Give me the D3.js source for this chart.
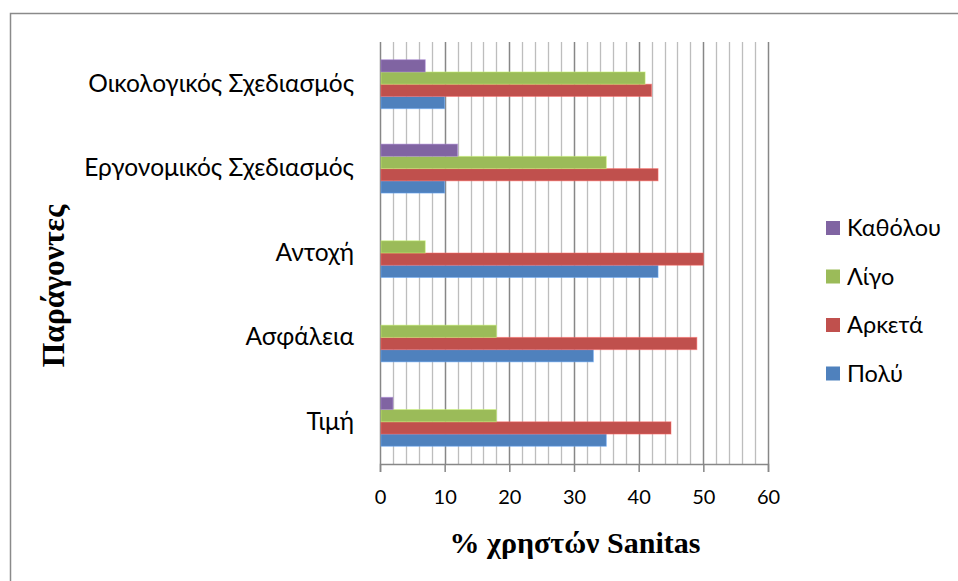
<!DOCTYPE html>
<html>
<head>
<meta charset="utf-8">
<script src="https://cdn.jsdelivr.net/npm/d3@7"></script>
<style>
  html, body { margin: 0; padding: 0; background: #fff; }
  svg { display: block; }
</style>
</head>
<body>
<svg id="chart" width="958" height="581"></svg>
<script>
// Factors, bottom to top
const categories = ["Τιμή", "Ασφάλεια", "Αντοχή", "Εργονομικός Σχεδιασμός", "Οικολογικός Σχεδιασμός"];
// Share of Sanitas users (%) per answer
const poly     = [35, 33, 43, 10, 10];
const arketa   = [45, 49, 50, 43, 42];
const ligo     = [18, 18, 7, 35, 41];
const katholou = [2, 0, 0, 12, 7];
const seriesNames = ["Πολύ", "Αρκετά", "Λίγο", "Καθόλου"];
const seriesColors = ["#4F81BD", "#C0504D", "#9BBB59", "#8064A2"];
const xTicks = [0, 10, 20, 30, 40, 50, 60];
const xTitle = "% χρηστών Sanitas";
const yTitle = "Παράγοντες";

const seriesValues = [poly, arketa, ligo, katholou];
const labelFont = "Lato, 'Noto Sans', sans-serif";
const titleFont = "'Liberation Serif', 'Times New Roman', serif";

const svg = d3.select("#chart");

// Outer chart frame
svg.append("rect")
  .attr("x", 10.5).attr("y", 13.5)
  .attr("width", 1000).attr("height", 700)
  .attr("fill", "none").attr("stroke", "#8a8a8a").attr("stroke-width", 1.5);

const x = d3.scaleLinear().domain([0, 60]).range([380, 768]);
const y = d3.scaleBand()
  .domain(categories.slice().reverse())
  .range([42, 464])
  .paddingInner(0.42)
  .paddingOuter(0.21);
// Series stacked top-to-bottom inside each band
const ySub = d3.scaleBand()
  .domain(seriesNames.slice().reverse())
  .range([0, y.bandwidth()]);

// Vertical gridlines: minor every 2, major every 10
const grid = svg.append("g");
grid.selectAll("line.minor")
  .data(d3.range(2, 60, 2).filter(v => v % 10 !== 0))
  .join("line")
  .attr("x1", d => Math.round(x(d)) + 0.5).attr("x2", d => Math.round(x(d)) + 0.5)
  .attr("y1", 42).attr("y2", 464)
  .attr("stroke", "#bdbdbd").attr("stroke-width", 1.3);
grid.selectAll("line.major")
  .data(xTicks)
  .join("line")
  .attr("x1", d => Math.round(x(d)) + 0.5).attr("x2", d => Math.round(x(d)) + 0.5)
  .attr("y1", 42).attr("y2", 464)
  .attr("stroke", "#878787").attr("stroke-width", 1.5);

// Bars
const bars = svg.append("g");
categories.forEach((cat, i) => {
  seriesNames.forEach((s, j) => {
    const v = seriesValues[j][i];
    if (v <= 0) return;
    bars.append("rect")
      .attr("x", x(0) + 1)
      .attr("y", y(cat) + ySub(s))
      .attr("width", x(v) - x(0) - 1)
      .attr("height", ySub.bandwidth())
      .attr("fill", seriesColors[j])
      .attr("stroke", d3.color(seriesColors[j]).brighter(0.8))
      .attr("stroke-opacity", 0.5)
      .attr("stroke-width", 1);
  });
});

// Bottom axis
const xAxis = svg.append("g")
  .attr("transform", "translate(0,464)")
  .call(d3.axisBottom(x).tickValues(xTicks).tickSize(8).tickPadding(18).tickFormat(d3.format("d")));
xAxis.select(".domain").attr("stroke", "#878787").attr("stroke-width", 1.5);
xAxis.selectAll(".tick line").attr("stroke", "#878787").attr("stroke-width", 1.5);
xAxis.selectAll(".tick text")
  .attr("fill", "#000").attr("font-family", labelFont).attr("font-size", 20);

// Left axis (labels only, the zero gridline serves as the axis line)
const yAxis = svg.append("g")
  .attr("transform", "translate(380,0)")
  .call(d3.axisLeft(y).tickSize(0).tickPadding(26));
yAxis.select(".domain").remove();
yAxis.selectAll(".tick text")
  .attr("fill", "#000").attr("font-family", labelFont).attr("font-size", 24.5);

// Axis titles
svg.append("text")
  .attr("x", 575).attr("y", 553)
  .attr("text-anchor", "middle")
  .attr("font-family", titleFont).attr("font-weight", "bold").attr("font-size", 30)
  .text(xTitle);
svg.append("text")
  .attr("transform", "translate(64,286) rotate(-90)")
  .attr("text-anchor", "middle")
  .attr("font-family", titleFont).attr("font-weight", "bold").attr("font-size", 31.5)
  .text(yTitle);

// Legend
const legendOrder = [3, 2, 1, 0];
const legend = svg.append("g");
legendOrder.forEach((j, k) => {
  const cy = 228 + k * 48.5;
  legend.append("rect")
    .attr("x", 826).attr("y", cy - 7).attr("width", 14).attr("height", 14)
    .attr("fill", seriesColors[j]);
  legend.append("text")
    .attr("x", 847).attr("y", cy)
    .attr("dy", "0.35em")
    .attr("font-family", labelFont).attr("font-size", 23.5)
    .text(seriesNames[j]);
});
</script>
</body>
</html>
